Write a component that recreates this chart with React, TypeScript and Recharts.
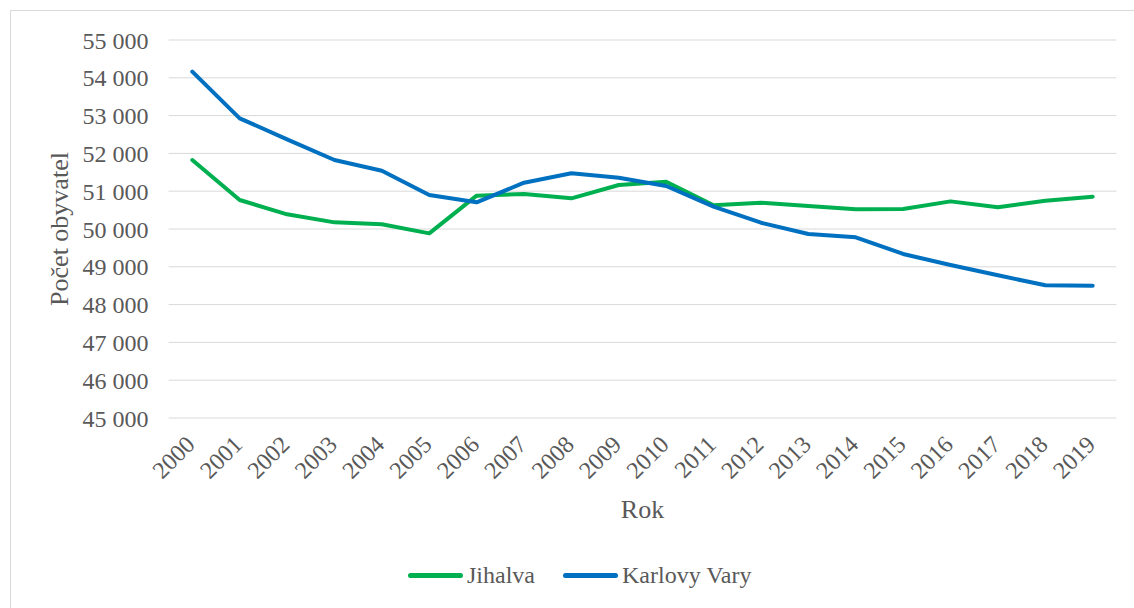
import React from "react";
import { LineChart, Line, XAxis, YAxis, CartesianGrid, Label } from "recharts";

// population by year
const years = [
  "2000", "2001", "2002", "2003", "2004", "2005", "2006", "2007", "2008", "2009",
  "2010", "2011", "2012", "2013", "2014", "2015", "2016", "2017", "2018", "2019",
];
const jihlava = [
  51825, 50767, 50388, 50176, 50124, 49885, 50882, 50926, 50812, 51164,
  51252, 50626, 50696, 50608, 50520, 50530, 50731, 50574, 50749, 50855,
];
const karlovyVary = [
  54162, 52928, 52373, 51825, 51543, 50899, 50706, 51225, 51473, 51358,
  51138, 50590, 50167, 49868, 49780, 49339, 49048, 48775, 48510, 48500,
];
const yTicks = [45000, 46000, 47000, 48000, 49000, 50000, 51000, 52000, 53000, 54000, 55000];

const series = [
  { key: "jihlava", name: "Jihalva", color: "#00B050" },
  { key: "karlovyVary", name: "Karlovy Vary", color: "#0070C0" },
];

const data = years.map((year, i) => ({
  year,
  jihlava: jihlava[i],
  karlovyVary: karlovyVary[i],
}));

const FONT = '"Liberation Serif", "Times New Roman", serif';
const TEXT = "#595959";
const GRID = "#D9D9D9";

const fmt = (v: number) => String(v).replace(/\B(?=(\d{3})+(?!\d))/g, " ");

const XTick = (props: any) => {
  const { x, y, payload } = props;
  return (
    <g transform={`translate(${x},${y})`}>
      <text
        x={4}
        y={20}
        textAnchor="end"
        transform="rotate(-45, 4, 20)"
        fill={TEXT}
        fontSize={24}
        fontFamily={FONT}
      >
        {payload.value}
      </text>
    </g>
  );
};

const App: React.FC = () => {
  return (
    <div style={{ position: "relative", width: 1134, height: 608, overflow: "hidden", background: "#fff" }}>
      <style>{`body{margin:0;overflow:hidden}`}</style>
      <div
        style={{
          position: "absolute", left: 10, top: 10, width: 1200, height: 700,
          border: `1px solid ${GRID}`, boxSizing: "border-box",
        }}
      />
      <div style={{ position: "absolute", left: 0, top: 0 }}>
        <LineChart width={1134} height={608} data={data} margin={{ top: 40, right: 17.6, bottom: 80, left: 0 }}>
          <CartesianGrid vertical={false} stroke={GRID} strokeWidth={1} />
          <XAxis
            dataKey="year"
            height={110}
            axisLine={false}
            tickLine={false}
            interval={0}
            padding={{ left: 23.7, right: 23.7 }}
            tick={<XTick />}
          >
            <Label
              content={(p: any) => {
                const vb = p.viewBox;
                return (
                  <text x={vb.x + vb.width / 2} y={vb.y + 100} textAnchor="middle" fill={TEXT} fontSize={26} fontFamily={FONT}>
                    Rok
                  </text>
                );
              }}
            />
          </XAxis>
          <YAxis
            width={168.6}
            domain={[45000, 55000]}
            ticks={yTicks}
            interval={0}
            axisLine={false}
            tickLine={false}
            tickMargin={14}
            tickFormatter={fmt}
            tick={{ fill: TEXT, fontSize: 24, fontFamily: FONT }}
          >
            <Label
              content={(p: any) => {
                const vb = p.viewBox;
                const cx = vb.x + 68;
                const cy = vb.y + vb.height / 2;
                return (
                  <text x={cx} y={cy} textAnchor="middle" transform={`rotate(-90, ${cx}, ${cy})`} fill={TEXT} fontSize={26} fontFamily={FONT}>
                    Počet obyvatel
                  </text>
                );
              }}
            />
          </YAxis>
          {series.map((s) => (
            <Line
              key={s.key}
              dataKey={s.key}
              name={s.name}
              type="linear"
              stroke={s.color}
              strokeWidth={4}
              strokeLinecap="round"
              strokeLinejoin="round"
              dot={false}
              activeDot={false}
              isAnimationActive={false}
            />
          ))}
        </LineChart>
      </div>
      <div
        style={{
          position: "absolute", left: 408, top: 562, display: "flex", alignItems: "center",
          fontFamily: FONT, fontSize: 24, color: TEXT, whiteSpace: "nowrap",
        }}
      >
        {series.map((s, i) => (
          <div key={s.key} style={{ display: "flex", alignItems: "center", marginLeft: i === 0 ? 0 : 28 }}>
            <span style={{ display: "inline-block", width: 55, height: 5, borderRadius: 3, background: s.color, marginRight: 4 }} />
            <span>{s.name}</span>
          </div>
        ))}
      </div>
    </div>
  );
};

export default App;
